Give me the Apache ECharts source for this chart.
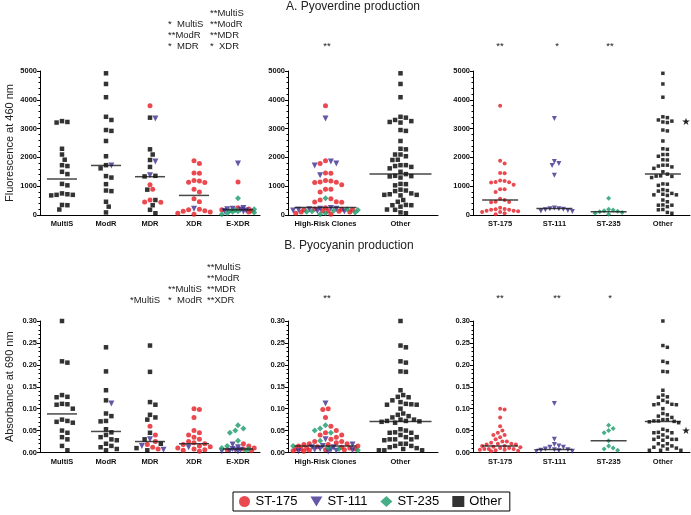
<!DOCTYPE html>
<html><head><meta charset="utf-8">
<script src="https://cdn.jsdelivr.net/npm/echarts/dist/echarts.min.js"></script>
<style>html,body{margin:0;padding:0;background:#fff}#c{width:691px;height:515px}</style>
</head><body><div id="c"></div>
<script>
// ---------- categories ----------
const cats1 = ['MultiS', 'ModR', 'MDR', 'XDR', 'E-XDR'];
const cats2 = ['High-Risk Clones', 'Other'];
const cats3 = ['ST-175', 'ST-111', 'ST-235', 'Other'];
const cloneTypes = ['ST-175', 'ST-111', 'ST-235', 'Other'];
const pvdTicks = [0, 1000, 2000, 3000, 4000, 5000];
const pyoTicks = [0, 0.05, 0.10, 0.15, 0.20, 0.25, 0.30];

// ---------- A. Pyoverdine (fluorescence at 460 nm) ----------
const pvd_MultiS_Other = [3260, 3230, 3210, 2300, 2100, 1920, 1730, 1700, 1500, 1420, 1080, 1030, 750, 720, 700, 700, 680, 350, 340, 190];
const pvd_ModR_Other = [4920, 4550, 4090, 3410, 3300, 2950, 2920, 2570, 2040, 1730, 1620, 1350, 1300, 1070, 850, 830, 460, 290, 90];
const pvd_ModR_ST111 = [1720];
const pvd_MDR_ST175 = [3790, 1050, 890, 520, 450, 440];
const pvd_MDR_ST111 = [3350, 1860, 1380];
const pvd_MDR_Other = [3380, 2280, 2100, 1910, 1670, 1360, 1340, 880, 520, 340, 180, 60];
const pvd_XDR_ST175 = [1880, 1790, 1460, 1450, 1200, 1180, 1140, 1130, 890, 800, 560, 460, 200, 180, 150, 130, 100, 60, 30];
const pvd_XDR_ST111 = [220];
const pvd_EXDR_ST175 = [1150, 250, 210, 180, 150, 100];
const pvd_EXDR_ST111 = [1790, 240, 220, 200, 180, 160, 140, 120];
const pvd_EXDR_ST235 = [580, 200, 170, 150, 130, 110, 90, 60, 30];
const pvdMedians1 = [1250, 1720, 1330, 680, 180];
const pvdMedians2 = [260, 1420];
const pvdMedians3 = [520, 230, 110, 1420];

// ---------- B. Pyocyanin (absorbance at 690 nm) ----------
const pyo_MultiS_Other = [0.300, 0.208, 0.205, 0.131, 0.127, 0.126, 0.111, 0.110, 0.109, 0.100, 0.075, 0.072, 0.070, 0.068, 0.050, 0.045, 0.035, 0.030, 0.015, 0.005];
const pyo_ModR_Other = [0.240, 0.185, 0.142, 0.119, 0.089, 0.083, 0.072, 0.071, 0.053, 0.046, 0.040, 0.035, 0.030, 0.028, 0.020, 0.015, 0.012, 0.008, 0.005];
const pyo_ModR_ST111 = [0.112];
const pyo_MDR_ST175 = [0.060, 0.040, 0.025, 0.018, 0.012, 0.008];
const pyo_MDR_ST111 = [0.030, 0.015, 0.006];
const pyo_MDR_Other = [0.244, 0.184, 0.115, 0.109, 0.086, 0.080, 0.075, 0.045, 0.030, 0.020, 0.010, 0.005];
const pyo_XDR_ST175 = [0.100, 0.098, 0.080, 0.050, 0.045, 0.040, 0.035, 0.030, 0.025, 0.022, 0.020, 0.018, 0.015, 0.013, 0.010, 0.008, 0.006, 0.005, 0.003];
const pyo_XDR_ST111 = [0.012];
const pyo_EXDR_ST175 = [0.020, 0.015, 0.010, 0.008, 0.006, 0.004];
const pyo_EXDR_ST111 = [0.018, 0.012, 0.008, 0.006, 0.005, 0.004, 0.003, 0.002];
const pyo_EXDR_ST235 = [0.062, 0.055, 0.050, 0.045, 0.027, 0.015, 0.010, 0.008, 0.005];
const pyoMedians1 = [0.088, 0.048, 0.025, 0.020, 0.008];
const pyoMedians2 = [0.015, 0.071];
const pyoMedians3 = [0.015, 0.007, 0.027, 0.071];

// ---------- build tables ----------
const pvdCols = [
  { 'Other': pvd_MultiS_Other },
  { 'ST-111': pvd_ModR_ST111, 'Other': pvd_ModR_Other },
  { 'ST-175': pvd_MDR_ST175, 'ST-111': pvd_MDR_ST111, 'Other': pvd_MDR_Other },
  { 'ST-175': pvd_XDR_ST175, 'ST-111': pvd_XDR_ST111 },
  { 'ST-175': pvd_EXDR_ST175, 'ST-111': pvd_EXDR_ST111, 'ST-235': pvd_EXDR_ST235 }
];
const pyoCols = [
  { 'Other': pyo_MultiS_Other },
  { 'ST-111': pyo_ModR_ST111, 'Other': pyo_ModR_Other },
  { 'ST-175': pyo_MDR_ST175, 'ST-111': pyo_MDR_ST111, 'Other': pyo_MDR_Other },
  { 'ST-175': pyo_XDR_ST175, 'ST-111': pyo_XDR_ST111 },
  { 'ST-175': pyo_EXDR_ST175, 'ST-111': pyo_EXDR_ST111, 'ST-235': pyo_EXDR_ST235 }
];
function flatCol(col) {
  const out = [];
  cloneTypes.forEach(t => (col[t] || []).forEach(v => out.push({ v, t })));
  return out;
}
function panelsFrom(cols) {
  const p1 = cols.map(flatCol);
  const all = [].concat(...p1);
  const p2 = [all.filter(p => p.t !== 'Other'), all.filter(p => p.t === 'Other')];
  const p3 = cloneTypes.map(t => all.filter(p => p.t === t));
  return [p1, p2, p3];
}

const COLORS = { 'ST-175': '#e31b23', 'ST-111': '#3d2d8e', 'ST-235': '#1a9a6a', 'Other': '#000000' };
const SYMBOL = { 'ST-175': 'circle', 'ST-111': 'triangle', 'ST-235': 'diamond', 'Other': 'rect' };

// beeswarm jitter (pixel offsets), capped to a maximum half-width
function swarm(vals, ppu, d, maxW) {
  const idx = vals.map((_, i) => i).sort((a, b) => vals[b].v - vals[a].v);
  const placed = [], dx = [];
  idx.forEach(i => {
    const y = vals[i].v * ppu;
    let best = 0, bestScore = -1, done = false;
    for (let s = 0; s < 400; s++) {
      const k = Math.ceil(s / 2) * (s % 2 ? 1 : -1);
      const x = k * d * 0.5;
      if (Math.abs(x) > maxW) break;
      let minD = Infinity;
      for (const p of placed) {
        const a = x - p.x, b = y - p.y;
        minD = Math.min(minD, a * a + b * b);
      }
      if (minD >= d * d * 0.95) { placed.push({ x, y }); dx[i] = x; done = true; break; }
      if (minD > bestScore) { bestScore = minD; best = x; }
    }
    if (!done) { placed.push({ x: best, y }); dx[i] = best; }
  });
  return dx;
}

const G = [
  { left: 40, top: 71, width: 220, height: 144 },
  { left: 288, top: 71, width: 150, height: 144 },
  { left: 473, top: 71, width: 217, height: 144 },
  { left: 40, top: 321, width: 220, height: 131.5 },
  { left: 288, top: 321, width: 150, height: 131.5 },
  { left: 473, top: 321, width: 217, height: 131.5 }
];
const catsByPanel = [cats1, cats2, cats3];
const symSize = [5, 5, 4];
const spacing = [5.4, 5.4, 4.5];
const maxHalf = [18, 33, 21];
const medW = [30, 62, 36];

const series = [];
function addRow(cols, medians, gOff, ppu) {
  const panels = panelsFrom(cols);
  panels.forEach((panel, pi) => {
    const g = gOff + pi;
    const byType = {};
    cloneTypes.forEach(t => byType[t] = []);
    panel.forEach((colVals, ci) => {
      const dx = swarm(colVals, ppu, spacing[pi], maxHalf[pi]);
      colVals.forEach((p, k) => byType[p.t].push({ value: [ci, p.v], symbolOffset: [dx[k], 0] }));
    });
    cloneTypes.forEach(t => {
      if (!byType[t].length) return;
      const s = t === 'Other' ? symSize[pi] - 0.5 : (t === 'ST-175' ? symSize[pi] : symSize[pi] + 1);
      series.push({
        type: 'scatter', name: t, xAxisIndex: g, yAxisIndex: g,
        symbol: SYMBOL[t], symbolRotate: t === 'ST-111' ? 180 : 0, symbolSize: s,
        itemStyle: { color: COLORS[t] }, data: byType[t], z: 3, silent: true
      });
    });
    series.push({
      type: 'scatter', name: 'median', xAxisIndex: g, yAxisIndex: g,
      symbol: 'rect', symbolSize: [medW[pi], 1.5], itemStyle: { color: '#1a1a1a' },
      data: medians[pi].map((m, i) => [i, m]), z: 4, silent: true
    });
  });
}
addRow(pvdCols, [pvdMedians1, pvdMedians2, pvdMedians3], 0, 144 / 5000);
addRow(pyoCols, [pyoMedians1, pyoMedians2, pyoMedians3], 3, 131.5 / 0.30);

const lblFont = { fontSize: 7.5, fontWeight: 'bold', color: '#111', fontFamily: 'Liberation Sans, Arial, sans-serif' };
const xAxes = G.map((_, g) => ({
  type: 'category', gridIndex: g, data: catsByPanel[g % 3],
  axisLine: { lineStyle: { color: '#000', width: 1 } }, axisTick: { show: false },
  axisLabel: Object.assign({ interval: 0, margin: 5 }, lblFont), splitLine: { show: false }
}));
const yAxes = G.map((_, g) => {
  const top = g < 3;
  const ticks = top ? pvdTicks : pyoTicks;
  const ax = {
    type: 'value', gridIndex: g, min: ticks[0], max: ticks[ticks.length - 1], interval: ticks[1] - ticks[0],
    axisLine: { show: true, lineStyle: { color: '#000', width: 1 } },
    axisTick: { show: true, length: 3, lineStyle: { color: '#000' } },
    minorTick: { show: true, splitNumber: 5, length: 1.5, lineStyle: { color: '#000' } },
    splitLine: { show: false },
    axisLabel: Object.assign({ margin: 3, formatter: v => top ? String(Math.round(v)) : v.toFixed(2) }, lblFont)
  };
  if (g === 0 || g === 3) {
    ax.name = top ? 'Fluorescence at 460 nm' : 'Absorbance at 690 nm';
    ax.nameLocation = 'middle'; ax.nameGap = 25;
    ax.nameTextStyle = { fontSize: 11, color: '#222', fontFamily: 'Liberation Sans, Arial, sans-serif' };
  }
  return ax;
});

const annFont = '9.5px "Liberation Sans", Arial, sans-serif';
function txt(text, x, y, align, font) {
  return { type: 'text', x, y, silent: true,
    style: { text, font: font || annFont, fill: '#222', textAlign: align || 'left', textVerticalAlign: 'middle', align: align || 'left', verticalAlign: 'middle' } };
}
const graphics = [
  txt('A. Pyoverdine production', 353, 7, 'center', '12px "Liberation Sans", Arial, sans-serif'),
  txt('B. Pyocyanin production', 349, 246, 'center', '12px "Liberation Sans", Arial, sans-serif'),
  // top annotations
  txt('*  MultiS', 168, 24), txt('**ModR', 168, 35), txt('*  MDR', 168, 46),
  txt('**MultiS', 210, 13), txt('**ModR', 210, 24), txt('**MDR', 210, 35), txt('*  XDR', 210, 46),
  txt('**', 327, 46, 'center'), txt('**', 500, 46, 'center'), txt('*', 557, 46, 'center'), txt('**', 610, 46, 'center'),
  // bottom annotations
  txt('*MultiS', 130, 300),
  txt('**MultiS', 168, 289), txt('*  ModR', 168, 300),
  txt('**MultiS', 207, 267), txt('**ModR', 207, 278), txt('**MDR', 207, 289), txt('**XDR', 207, 300),
  txt('**', 327, 298, 'center'), txt('**', 500, 298, 'center'), txt('**', 557, 298, 'center'), txt('*', 610, 298, 'center'),
  txt('★', 686, 122, 'center', '10px "DejaVu Sans", sans-serif'),
  txt('★', 686, 431, 'center', '10px "DejaVu Sans", sans-serif')
];

const chart = echarts.init(document.getElementById('c'), null, { renderer: 'canvas' });
chart.setOption({
  animation: false,
  backgroundColor: '#fff',
  grid: G,
  xAxis: xAxes,
  yAxis: yAxes,
  legend: {
    left: 233, top: 492, orient: 'horizontal', selectedMode: false,
    data: [
      { name: 'ST-175', icon: 'circle' },
      { name: 'ST-111', icon: 'path://M0,0L12,0L6,10Z' },
      { name: 'ST-235', icon: 'diamond' },
      { name: 'Other', icon: 'rect' }
    ],
    itemWidth: 12, itemHeight: 11, itemGap: 13, padding: [3, 8, 3, 6],
    borderColor: '#000', borderWidth: 1,
    textStyle: { fontSize: 13, color: '#000', fontFamily: 'Liberation Sans, Arial, sans-serif' }
  },
  graphic: graphics,
  series
});
</script></body></html>
